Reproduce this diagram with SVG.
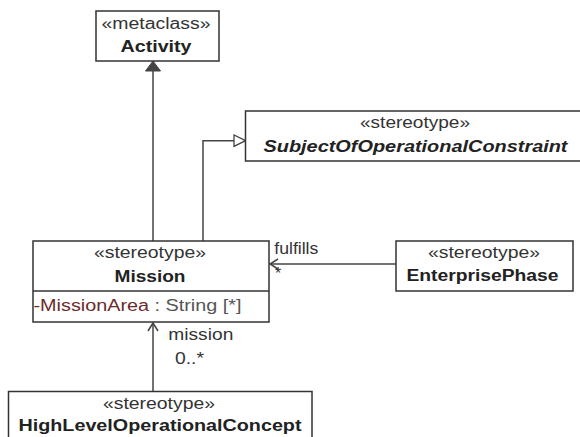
<svg xmlns="http://www.w3.org/2000/svg" width="580" height="437" viewBox="0 0 580 437">
<style>
.box{fill:#fff;stroke:#333;stroke-width:1.5}
.t{font-family:"Liberation Sans",Arial,sans-serif;font-size:16px;fill:#333;text-anchor:middle}
.b{font-weight:bold;fill:#222}
.bi{font-weight:bold;font-style:italic;fill:#222}
.lbl{font-family:"Liberation Sans",Arial,sans-serif;font-size:16px;fill:#333}
.ln{fill:none;stroke:#444;stroke-width:1.5}
</style>
<rect width="580" height="437" fill="#fff"/>
<g id="connectors">
<path class="ln" d="M153,241 V70"/>
<polygon points="153,61 145.5,71 160.5,71" fill="#444" stroke="#444" stroke-width="1"/>
<path class="ln" d="M203,241 V140.7 H234"/>
<polygon points="245.5,140.7 234,135 234,146.4" fill="#fff" stroke="#444" stroke-width="1.3"/>
<path class="ln" d="M396,264 H270"/>
<path class="ln" d="M278,259 L270,264 L278,269"/>
<path class="ln" d="M153,391 V323"/>
<path class="ln" d="M148,331 L153,323 L158,331"/>
<text class="lbl" x="274.3" y="254" textLength="44" lengthAdjust="spacingAndGlyphs">fulfills</text>
<text class="lbl" x="275" y="279" font-size="13">*</text>
<text class="lbl" x="168.3" y="340" textLength="65" lengthAdjust="spacingAndGlyphs">mission</text>
<text class="lbl" x="175" y="364" textLength="29" lengthAdjust="spacingAndGlyphs">0..*</text>
</g>
<g id="activity">
<rect class="box" x="96" y="11" width="123" height="50"/>
<text class="t" x="156" y="28.5" textLength="109" lengthAdjust="spacingAndGlyphs">«metaclass»</text>
<text class="t b" x="156" y="51.5" textLength="71" lengthAdjust="spacingAndGlyphs">Activity</text>
</g>
<g id="subjectOfOperationalConstraint">
<rect class="box" x="245.5" y="111" width="345" height="50"/>
<text class="t" x="415" y="127.5" textLength="110" lengthAdjust="spacingAndGlyphs">«stereotype»</text>
<text class="t bi" x="415.5" y="151.5" textLength="304" lengthAdjust="spacingAndGlyphs">SubjectOfOperationalConstraint</text>
</g>
<g id="mission">
<rect class="box" x="33" y="241" width="236" height="81"/>
<line x1="33" y1="291" x2="269" y2="291" stroke="#333" stroke-width="1.5"/>
<text class="t" x="150" y="257.5" textLength="112" lengthAdjust="spacingAndGlyphs">«stereotype»</text>
<text class="t b" x="150" y="281.5" textLength="71" lengthAdjust="spacingAndGlyphs">Mission</text>
<text class="lbl" x="33.5" y="310.5" textLength="208" lengthAdjust="spacingAndGlyphs"><tspan fill="#6b2b2b">-MissionArea</tspan><tspan fill="#555"> : String [*]</tspan></text>
</g>
<g id="enterprisePhase">
<rect class="box" x="396" y="241" width="177" height="50"/>
<text class="t" x="484" y="258" textLength="112" lengthAdjust="spacingAndGlyphs">«stereotype»</text>
<text class="t b" x="482.5" y="281" textLength="152" lengthAdjust="spacingAndGlyphs">EnterprisePhase</text>
</g>
<g id="highLevelOperationalConcept">
<rect class="box" x="8.5" y="391.5" width="303.5" height="60"/>
<text class="t" x="159" y="409" textLength="112" lengthAdjust="spacingAndGlyphs">«stereotype»</text>
<text class="t b" x="160" y="430.5" textLength="283" lengthAdjust="spacingAndGlyphs">HighLevelOperationalConcept</text>
</g>
</svg>
